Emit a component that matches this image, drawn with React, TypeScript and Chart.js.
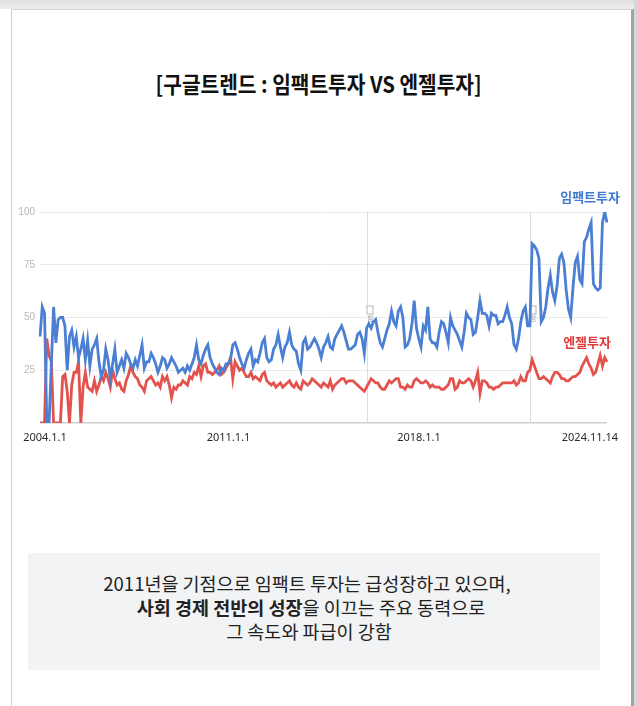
import React, { useEffect, useRef } from 'react';
import { Chart, registerables } from 'chart.js';

Chart.register(...registerables);

// ---- Data (Google Trends monthly index, 2004.1 – 2024.11) ----
const startYear = 2004;
const months: string[] = Array.from({ length: 251 }, (_, i) => `${startYear + Math.floor(i / 12)}.${(i % 12) + 1}`);

const impactInvest: number[] = [
  41, 55, 52, 0, 0, 28, 55, 38, 49, 50, 50, 46, // 2004
  25, 41, 44, 36, 41, 31, 35, 40, 30, 39, 27, 35, // 2005
  37, 40, 29, 22, 25, 35, 30, 21, 28, 35, 24, 27, // 2006
  30, 26, 33, 31, 28, 26, 30, 27, 32, 37, 26, 29, // 2007
  29, 33, 31, 28, 24, 27, 31, 30, 26, 28, 31, 29, // 2008
  27, 24, 25, 26, 24, 27, 25, 28, 31, 37, 30, 28, // 2009
  32, 35, 37, 31, 28, 26, 24, 23, 26, 25, 28, 28, // 2010
  30, 37, 38, 35, 31, 28, 26, 30, 33, 35, 27, 30, // 2011
  29, 33, 38, 40, 31, 29, 30, 35, 37, 42, 36, 31, // 2012
  36, 38, 43, 37, 35, 34, 28, 25, 38, 40, 35, 36, // 2013
  38, 40, 38, 35, 31, 36, 38, 41, 36, 35, 40, 42, // 2014
  44, 46, 43, 39, 35, 35, 36, 37, 42, 43, 40, 33, // 2015
  45, 47, 45, 48, 49, 43, 38, 36, 40, 44, 47, 53, // 2016
  48, 46, 53, 55, 50, 36, 37, 40, 47, 58, 45, 40, // 2017
  36, 46, 44, 55, 40, 38, 38, 36, 43, 48, 47, 43, // 2018
  38, 50, 46, 44, 42, 39, 36, 43, 52, 50, 49, 42, // 2019
  43, 50, 58, 52, 52, 51, 46, 52, 51, 51, 47, 48, // 2020
  48, 51, 55, 50, 47, 37, 35, 40, 48, 53, 55, 46, // 2021
  46, 85, 84, 82, 78, 48, 50, 55, 64, 70, 62, 58, // 2022
  65, 78, 80, 76, 63, 54, 50, 64, 76, 79, 68, 66, // 2023
  86, 88, 92, 95, 66, 64, 63, 64, 95, 100, 95, // 2024
];

const angelInvest: number[] = [
  0, 0, 0, 40, 32, 29, 0, 0, 0, 0, 22, 23, // 2004
  15, 0, 18, 24, 24, 29, 0, 17, 24, 17, 16, 15, // 2005
  20, 15, 18, 22, 20, 24, 21, 17, 25, 21, 18, 19, // 2006
  16, 15, 20, 23, 27, 24, 22, 21, 18, 17, 15, 20, // 2007
  21, 22, 20, 18, 19, 17, 22, 20, 22, 18, 12, 17, // 2008
  16, 18, 18, 20, 19, 18, 22, 21, 24, 23, 27, 22, // 2009
  27, 28, 24, 24, 23, 24, 25, 27, 23, 24, 26, 28, // 2010
  31, 21, 29, 27, 25, 26, 24, 22, 22, 24, 21, 22, // 2011
  21, 20, 23, 24, 20, 19, 18, 19, 17, 18, 19, 17, // 2012
  18, 19, 20, 18, 17, 19, 17, 16, 20, 19, 18, 19, // 2013
  21, 20, 19, 18, 17, 19, 18, 17, 20, 16, 18, 19, // 2014
  20, 21, 21, 19, 20, 20, 20, 19, 18, 17, 16, 15, // 2015
  17, 19, 21, 20, 19, 19, 17, 16, 16, 18, 20, 19, // 2016
  20, 21, 21, 17, 17, 16, 18, 17, 17, 20, 21, 20, // 2017
  19, 19, 20, 19, 17, 18, 17, 17, 17, 16, 16, 17, // 2018
  18, 21, 21, 16, 17, 20, 19, 19, 20, 21, 20, 17, // 2019
  20, 24, 14, 20, 20, 19, 17, 17, 16, 17, 17, 18, // 2020
  19, 19, 19, 19, 19, 20, 18, 19, 22, 20, 20, 24, // 2021
  25, 30, 27, 24, 21, 21, 22, 21, 20, 19, 22, 24, // 2022
  24, 23, 21, 21, 20, 20, 21, 22, 22, 23, 24, 27, // 2023
  29, 31, 28, 26, 23, 24, 28, 32, 27, 31, 29, // 2024
];

const seriesNames = ['임팩트투자', '엔젤투자'];
const xTickIndex = [0, 84, 168, 250];
const xTickLabels = ['2004.1.1', '2011.1.1', '2018.1.1', '2024.11.14'];
const noteIndex = [144, 216];
const yTicks = [0, 25, 50, 75, 100];

const BLUE = '#4a7fd4';
const RED = '#e3534d';

const title = '[구글트렌드 : 임팩트투자 VS 엔젤투자]';

const overlayPlugin = {
  id: 'overlay',
  beforeDatasetsDraw(chart: any) {
    const { ctx, chartArea, scales } = chart;
    ctx.save();
    noteIndex.forEach((idx) => {
      const x = Math.round(scales.x.getPixelForValue(idx)) + 0.5;
      ctx.strokeStyle = '#dcdcdc';
      ctx.lineWidth = 1;
      ctx.beginPath();
      ctx.moveTo(x, chartArea.top);
      ctx.lineTo(x, chartArea.bottom);
      ctx.stroke();
      // small note marker
      ctx.fillStyle = '#ffffff';
      ctx.fillRect(x - 0.5, 116, 6, 18);
      ctx.strokeStyle = '#b5b5b5';
      ctx.strokeRect(x - 0.5, 116, 6, 8);
      ctx.fillStyle = '#9a9a9a';
      ctx.font = '7px "Noto Sans CJK KR"';
      ctx.textAlign = 'left';
      ctx.textBaseline = 'top';
      ctx.fillText('참', x - 0.5, 125);
    });
    ctx.restore();
  },
  afterDraw(chart: any) {
    const { ctx, chartArea, scales } = chart;
    ctx.save();
    ctx.fillStyle = '#2a2a2a';
    ctx.font = '11px "Noto Sans"';
    ctx.textBaseline = 'middle';
    xTickIndex.forEach((idx, k) => {
      const px = scales.x.getPixelForValue(idx);
      if (k === xTickIndex.length - 1) {
        ctx.textAlign = 'right';
        ctx.fillText(xTickLabels[k], chartArea.right + 11, 247.5);
      } else {
        ctx.textAlign = 'center';
        ctx.fillText(xTickLabels[k], px + (k === 0 ? 5 : -2), 247.5);
      }
    });
    ctx.restore();
  },
};

function TrendChart() {
  const ref = useRef<HTMLCanvasElement | null>(null);
  useEffect(() => {
    if (!ref.current) return;
    const chart = new Chart(ref.current, {
      type: 'line',
      data: {
        labels: months,
        datasets: [
          {
            label: seriesNames[0],
            data: impactInvest,
            borderColor: BLUE,
            borderWidth: 2.8,
            pointRadius: 0,
            tension: 0,
            fill: false,
          },
          {
            label: seriesNames[1],
            data: angelInvest,
            borderColor: RED,
            borderWidth: 2.8,
            pointRadius: 0,
            tension: 0,
            fill: false,
          },
        ],
      },
      options: {
        responsive: false,
        animation: false,
        layout: { padding: { left: 0, right: 30, top: 22, bottom: 32 } },
        plugins: { legend: { display: false }, tooltip: { enabled: false } },
        scales: {
          x: { display: false },
          y: {
            min: 0,
            max: 100,
            afterFit: (s: any) => {
              s.width = 40;
            },
            afterBuildTicks: (s: any) => {
              s.ticks = yTicks.map((v) => ({ value: v }));
            },
            ticks: {
              padding: 5,
              color: '#b8b8b8',
              font: { family: '"Liberation Sans Narrow", "Liberation Sans"', size: 10 },
              callback: (v: any) => (v === 0 ? '' : String(v)),
            },
            grid: {
              drawTicks: false,
              color: (c: any) => (c.tick && c.tick.value === 0 ? '#cdcdcd' : '#e9e9e9'),
              lineWidth: (c: any) => (c.tick && c.tick.value === 0 ? 1.5 : 1),
            },
            border: { display: false },
          },
        },
      },
      plugins: [overlayPlugin],
    });
    return () => chart.destroy();
  }, []);
  return (
    <canvas
      ref={ref}
      width={637}
      height={265}
      style={{ position: 'absolute', left: 0, top: 190, width: 637, height: 265 }}
    />
  );
}

export default function App() {
  const kr = '"Noto Sans CJK KR", "Noto Sans", sans-serif';
  return (
    <div style={{ position: 'absolute', left: 0, top: 0, width: 637, height: 706, background: '#ffffff', overflow: 'hidden', fontFamily: kr }}>
      <div style={{ position: 'absolute', left: 0, top: 0, width: 637, height: 9, background: 'linear-gradient(#dedede, #eeeeee)' }} />
      <div style={{ position: 'absolute', left: 634, top: 0, width: 3, height: 706, background: '#d6d6d6' }} />
      <div
        style={{
          position: 'absolute',
          left: 11,
          top: 9,
          width: 619,
          height: 697,
          borderLeft: '1px solid #cfcfcf',
          borderRight: '3px solid #a3a3a3',
          borderTop: '1px solid #d4d4d4',
          background: '#ffffff',
        }}
      />
      <div
        style={{
          position: 'absolute',
          left: 0,
          top: 67,
          width: 637,
          textAlign: 'center',
          fontSize: 22.5,
          fontWeight: 700,
          lineHeight: '32px',
          color: '#111',
          transform: 'scaleX(0.9)',
          transformOrigin: '320px 0',
        }}
      >
        {title}
      </div>
      <TrendChart />
      <div style={{ position: 'absolute', right: 17, top: 189, fontSize: 13, fontWeight: 700, lineHeight: '16px', color: '#3f7cd1' }}>
        {seriesNames[0]}
      </div>
      <div style={{ position: 'absolute', right: 26, top: 334, fontSize: 13, fontWeight: 700, lineHeight: '16px', color: '#e0393a' }}>
        {seriesNames[1]}
      </div>
      <div
        style={{
          position: 'absolute',
          left: 28,
          top: 553,
          width: 572,
          height: 117,
          background: '#f2f3f4',
          boxSizing: 'border-box',
          paddingTop: 18,
          textAlign: 'center',
          fontSize: 18.5,
          lineHeight: '24px',
          color: '#222',
        }}
      >
        <div style={{ marginLeft: -14 }}>2011년을 기점으로 임팩트 투자는 급성장하고 있으며,</div>
        <div style={{ marginLeft: -6 }}>
          <b>사회 경제 전반의 성장</b>을 이끄는 주요 동력으로
        </div>
        <div style={{ marginLeft: -10 }}>그 속도와 파급이 강함</div>
      </div>
    </div>
  );
}
